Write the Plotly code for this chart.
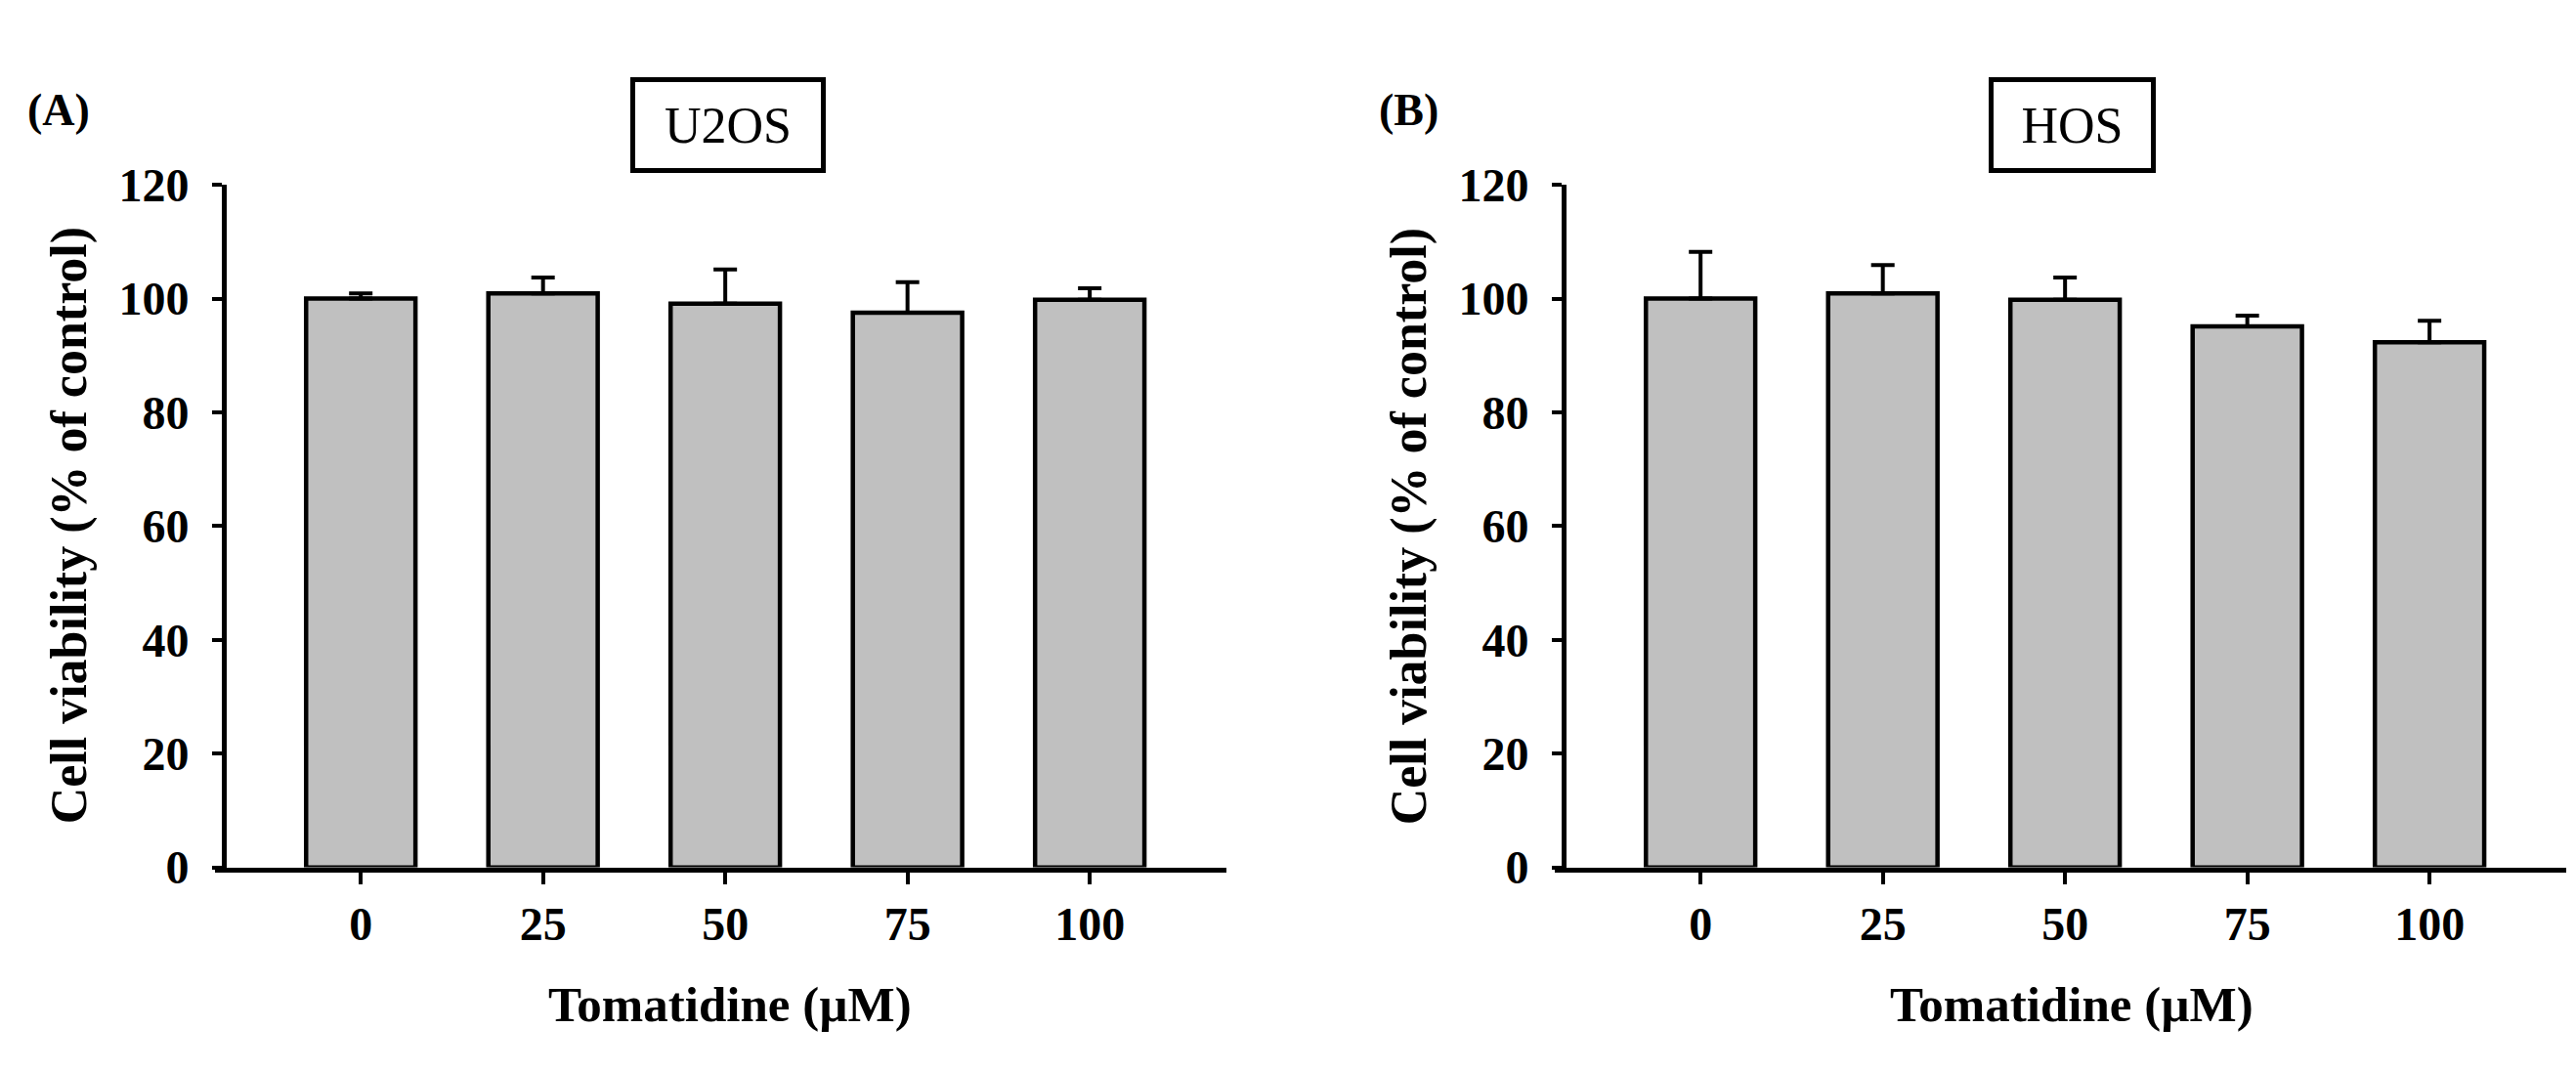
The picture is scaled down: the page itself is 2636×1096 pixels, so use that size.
import plotly.graph_objects as go
from plotly.subplots import make_subplots

# Tomatidine doses (uM) and cell viability (% of control)
doses = ["0", "25", "50", "75", "100"]
u2os_mean = [100.0, 100.9, 99.1, 97.5, 99.8]
u2os_sd = [0.9, 2.8, 6.0, 5.4, 2.0]
hos_mean = [100.0, 100.9, 99.8, 95.1, 92.3]
hos_sd = [8.2, 5.0, 3.9, 1.9, 3.8]
y_ticks = [0, 20, 40, 60, 80, 100, 120]

W, H = 2636, 1096
FONT = "Liberation Serif, Times New Roman, serif"

def px_x(v):
    return v / W

def px_y(v):
    return (H - v) / H

fig = make_subplots(rows=1, cols=2)

panels = [(u2os_mean, u2os_sd, 1), (hos_mean, hos_sd, 2)]
for mean, sd, col in panels:
    fig.add_trace(
        go.Bar(x=doses, y=mean, width=0.6,
               marker=dict(color="#c0c0c0", line=dict(color="black", width=4.5)),
               error_y=dict(type="data", array=sd, arrayminus=[0] * len(sd), symmetric=False,
                            color="black", thickness=4, width=12),
               showlegend=False),
        row=1, col=col)

# axes placement (pixel positions converted to paper fractions)
x_dom = {1: (212, 1247), 2: (1583, 2618)}
y_pos = {1: 221, 2: 1592}
for col in (1, 2):
    fig.update_xaxes(domain=[px_x(x_dom[col][0]), px_x(x_dom[col][1])],
                     type="category", range=[-0.8, 4.75],
                     showline=True, linecolor="black", linewidth=5,
                     ticks="outside", ticklen=12, tickwidth=4, tickcolor="black",
                     tickfont=dict(family=FONT, size=48, color="black", weight="bold"),
                     ticklabelstandoff=0, showgrid=False, zeroline=False,
                     row=1, col=col)
    fig.update_yaxes(domain=[px_y(897), px_y(163)], range=[0, 120],
                     anchor="free", position=px_x(y_pos[col]),
                     tickvals=y_ticks,
                     showline=True, linecolor="black", linewidth=5,
                     ticks="outside", ticklen=10, tickwidth=4, tickcolor="black",
                     tickfont=dict(family=FONT, size=48, color="black", weight="bold"),
                     ticklabelstandoff=14, showgrid=False, zeroline=False,
                     row=1, col=col)

annotations = []
for label, x_lab, name, x_box, box_w, x_title, x_ytitle in [
    ("(A)", 52, "U2OS", 737, 190, 739, 63),
    ("(B)", 1434, "HOS", 2112, 161, 2112, 1434),
]:
    annotations.append(dict(text=label, x=px_x(x_lab), y=px_y(83), xref="paper", yref="paper",
                            showarrow=False, xanchor="center", yanchor="middle",
                            font=dict(family=FONT, size=46, color="black", weight="bold")))
    annotations.append(dict(text=name, x=px_x(x_box), y=px_y(99), xref="paper", yref="paper",
                            showarrow=False, xanchor="center", yanchor="middle",
                            width=box_w, height=88, borderpad=0,
                            bordercolor="black", borderwidth=5, bgcolor="white",
                            font=dict(family=FONT, size=52, color="black")))
    annotations.append(dict(text="Tomatidine (\u00b5M)", x=px_x(x_title), y=px_y(1045),
                            xref="paper", yref="paper", showarrow=False,
                            xanchor="center", yanchor="middle",
                            font=dict(family=FONT, size=51, color="black", weight="bold")))
    annotations.append(dict(text="Cell viability (% of control)", x=px_x(x_ytitle), y=px_y(530),
                            xref="paper", yref="paper", showarrow=False, textangle=-90,
                            xanchor="center", yanchor="middle",
                            font=dict(family=FONT, size=52, color="black", weight="bold")))

fig.update_layout(width=W, height=H, autosize=False,
                  margin=dict(l=0, r=0, t=0, b=0),
                  paper_bgcolor="white", plot_bgcolor="white",
                  bargap=0.4, annotations=annotations)

fig.write_html("out.html")
